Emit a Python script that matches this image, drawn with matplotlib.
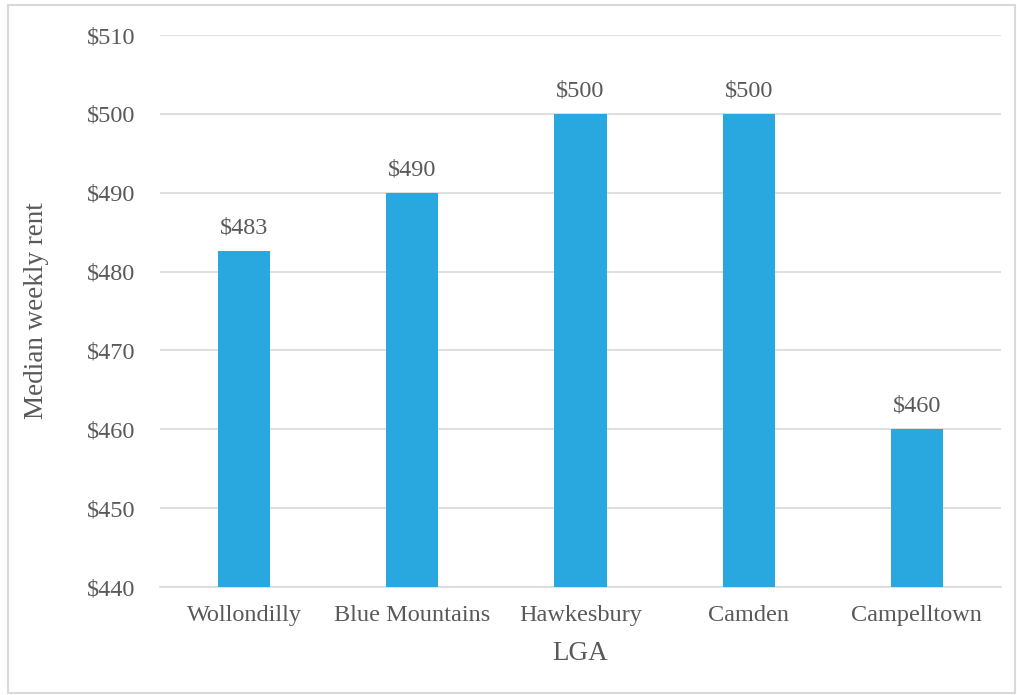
import matplotlib
matplotlib.use("Agg")
import matplotlib.pyplot as plt
from matplotlib.patches import Rectangle

lgas = ["Wollondilly", "Blue Mountains", "Hawkesbury", "Camden", "Campelltown"]
median_rent = [482.6, 490, 500, 500, 460]
y_ticks = [440, 450, 460, 470, 480, 490, 500, 510]

bar_color = "#29A8E0"
text_color = "#595959"
grid_color = "#D9D9D9"

plt.rcParams["font.family"] = ["Liberation Serif", "DejaVu Serif"]

W, H = 1017, 695
fig = plt.figure(figsize=(W / 100, H / 100), dpi=100)
fig.patches.append(Rectangle((8 / W, 2 / H), (W - 10) / W, (H - 7) / H,
                             transform=fig.transFigure, fill=False,
                             edgecolor=grid_color, linewidth=1.5))

ax = fig.add_axes([160 / W, 1 - 587 / H, 841 / W, 552 / H])
x = range(len(lgas))
bars = ax.bar(x, median_rent, width=0.31, color=bar_color, zorder=3)

ax.set_xlim(-0.5, len(lgas) - 0.5)
ax.set_ylim(y_ticks[0], y_ticks[-1])
ax.set_yticks(y_ticks)
ax.set_yticklabels([f"${v}" for v in y_ticks])
ax.set_xticks(list(x))
ax.set_xticklabels(lgas)
ax.yaxis.grid(True, color=grid_color, linewidth=1.2, zorder=0)
ax.set_axisbelow(True)
for side in ["top", "right", "left"]:
    ax.spines[side].set_visible(False)
ax.spines["bottom"].set_color(grid_color)
ax.spines["bottom"].set_linewidth(1.2)
ax.tick_params(axis="both", length=0, labelsize=17.5, labelcolor=text_color)
ax.tick_params(axis="y", pad=18)
ax.tick_params(axis="x", pad=13)

for rect, v in zip(bars, median_rent):
    ax.annotate(f"${v:.0f}", (rect.get_x() + rect.get_width() / 2, v),
                xytext=(0, 9), textcoords="offset points",
                ha="center", va="bottom", fontsize=17.5, color=text_color)

ax.set_ylabel("Median weekly rent", fontsize=19.5, color=text_color, labelpad=27)
ax.set_xlabel("LGA", fontsize=19.5, color=text_color, labelpad=11)

fig.savefig("out.png", dpi=100)
